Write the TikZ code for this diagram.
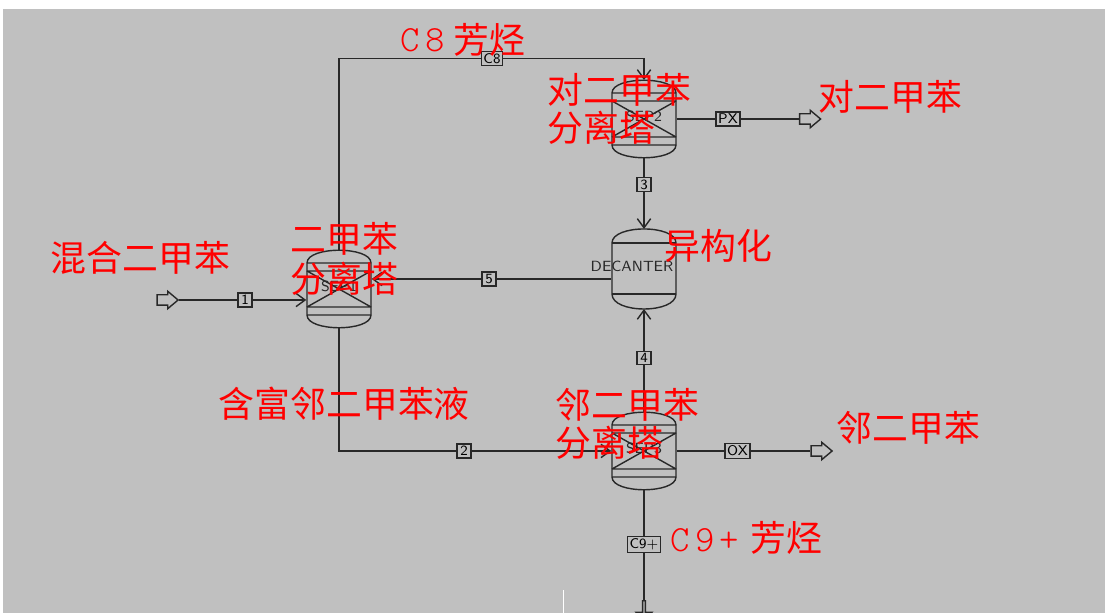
\documentclass[tikz,border=0pt]{standalone}
\usepackage{fontspec}
\usepackage{tikz}
\usetikzlibrary{arrows.meta,shapes.arrows}
\newfontfamily\cjk{Noto Sans CJK SC}
\newfontfamily\thinmono{lmmonolt10-regular.otf}
\definecolor{panel}{RGB}{192,192,192}
\definecolor{pipe}{RGB}{40,40,40}

\begin{document}
\begin{tikzpicture}[x=0.01cm,y=-0.01cm,>={Straight Barb[length=2.6pt,width=3.8pt]},
    flow/.style={draw=pipe,line width=0.4pt},
    tag/.style={draw=pipe,fill=panel,line width=0.4pt,font=\sffamily\fontsize{4}{4}\selectfont,
                inner sep=0.6pt,minimum width=0.14cm,minimum height=0.13cm},
    col/.style={minimum width=0.64cm,minimum height=0.52cm,inner sep=0},
    io/.style={single arrow,draw=pipe,fill=panel,line width=0.4pt,inner xsep=0,inner ysep=0.045cm,
               minimum height=0.21cm,minimum width=0.16cm,single arrow head extend=0.035cm,
               single arrow tip angle=80},
    redlab/.style={text=red,font=\cjk\fontsize{10.2}{10.8}\selectfont,inner sep=0,anchor=west,align=left},
    thinlab/.style={text=red,font=\thinmono\fontsize{10.5}{11}\selectfont,inner sep=0,anchor=west},
    eqlab/.style={text=pipe,font=\sffamily\fontsize{4.2}{5}\selectfont,inner sep=0}]
  \useasboundingbox (0,0) rectangle (1105,613);
  \fill[panel] (3,9) rectangle (1105,613);

  % separation columns
  \foreach \n/\x/\y/\lab in {sep1/339/289/SEP1, sep2/644/119/SEP2, sep3/644/451/SEP3}{
    \node[col] (\n) at (\x,\y) {};
    \coordinate (\n-top) at (\x,\y-39);
    \coordinate (\n-bot) at (\x,\y+39);
    \draw[flow] (\x-32,\y-26) .. controls (\x-32,\y-43) and (\x+32,\y-43) .. (\x+32,\y-26)
      -- (\x+32,\y+26) .. controls (\x+32,\y+43) and (\x-32,\y+43) .. (\x-32,\y+26) -- cycle;
    \draw[flow] (\x-32,\y-26) -- (\x+32,\y-26) (\x-32,\y-18) -- (\x+32,\y-18)
      (\x-32,\y+18) -- (\x+32,\y+18) (\x-32,\y+26) -- (\x+32,\y+26)
      (\x-32,\y-18) -- (\x+32,\y+18) (\x-32,\y+18) -- (\x+32,\y-18);
    \node[eqlab] at (\x,\y-3) {\lab};
  }

  % decanter
  \node[col,minimum height=0.51cm] (dec) at (644,268.5) {};
  \coordinate (dec-top) at (644,229);
  \coordinate (dec-bot) at (644,309);
  \draw[flow] (612,243) .. controls (612,224.3) and (676,224.3) .. (676,243) -- (676,294)
    .. controls (676,314) and (612,314) .. (612,294) -- cycle;
  \draw[flow] (612,243) -- (676,243) (612,294) -- (676,294);
  \node[eqlab] at (632,266) {DECANTER};

  % stream tags and terminals
  \node[tag] (c8) at (492,58.5) {C8};
  \node[tag] (px) at (728,119) {PX};
  \node[tag] (s3) at (644,184.5) {3};
  \node[tag] (s5) at (489,279) {5};
  \node[tag] (s1) at (245,300) {1};
  \node[tag] (s2) at (464,451) {2};
  \node[tag] (s4) at (644,358) {4};
  \node[tag] (ox) at (737.5,451) {OX};
  \node[tag] (c9) at (644,544.5) {C9+};
  \node[io] (feed) at (164.5,300) {};
  \node[io] (pxout) at (807,119) {};
  \node[io] (oxout) at (818.5,451) {};
  \node[io,shape border rotate=270] (c9out) at (644,610.5) {};

  \draw[flow] (sep1-top) |- (c8);
  \draw[flow,->] (c8) -| (sep2-top);
  \draw[flow] (sep2) -- (px);
  \draw[flow] (px) -- (pxout);
  \draw[flow] (sep2-bot) -- (s3);
  \draw[flow,->] (s3) -- (dec-top);
  \draw[flow] (s5 -| dec.west) -- (s5);
  \draw[flow,->] (s5) -- (s5 -| sep1.east);
  \draw[flow] (feed) -- (s1);
  \draw[flow,->] (s1) -- (s1 -| sep1.west);
  \draw[flow] (sep1-bot) |- (s2);
  \draw[flow,->] (s2) -- (sep3);
  \draw[flow] (sep3-top) -- (s4);
  \draw[flow,->] (s4) -- (dec-bot);
  \draw[flow] (sep3) -- (ox);
  \draw[flow] (ox) -- (oxout);
  \draw[flow] (sep3-bot) -- (c9);
  \draw[flow] (c9) -- (c9out);
  \draw[white,line width=0.25pt] (563,590) -- (563,613);

  % red labels
  \node[thinlab] (c8t) at (400,40) {C\hspace{1.5pt}8};
  \node[redlab] (c8c) at (453,40) {芳烃};
  \node[redlab] (sep2t) at (547,108.5) {对二甲苯\\分离塔};
  \node[redlab] (pxt) at (818,97) {对二甲苯};
  \node[redlab] (feedt) at (50,258) {混合二甲苯};
  \node[redlab,font=\cjk\fontsize{10.2}{11.4}\selectfont] (sep1t) at (290,259) {二甲苯\\分离塔};
  \node[redlab] (dect) at (664,246) {异构化};
  \node[redlab] (s2t) at (218,404) {含富邻二甲苯液};
  \node[redlab] (sep3t) at (555,424) {邻二甲苯\\分离塔};
  \node[redlab] (oxt) at (836,428) {邻二甲苯};
  \node[thinlab] (c9t) at (670,540) {C\hspace{1.5pt}9\hspace{1.5pt}+};
  \node[redlab] (c9c) at (750,538) {芳烃};
\end{tikzpicture}
\end{document}
